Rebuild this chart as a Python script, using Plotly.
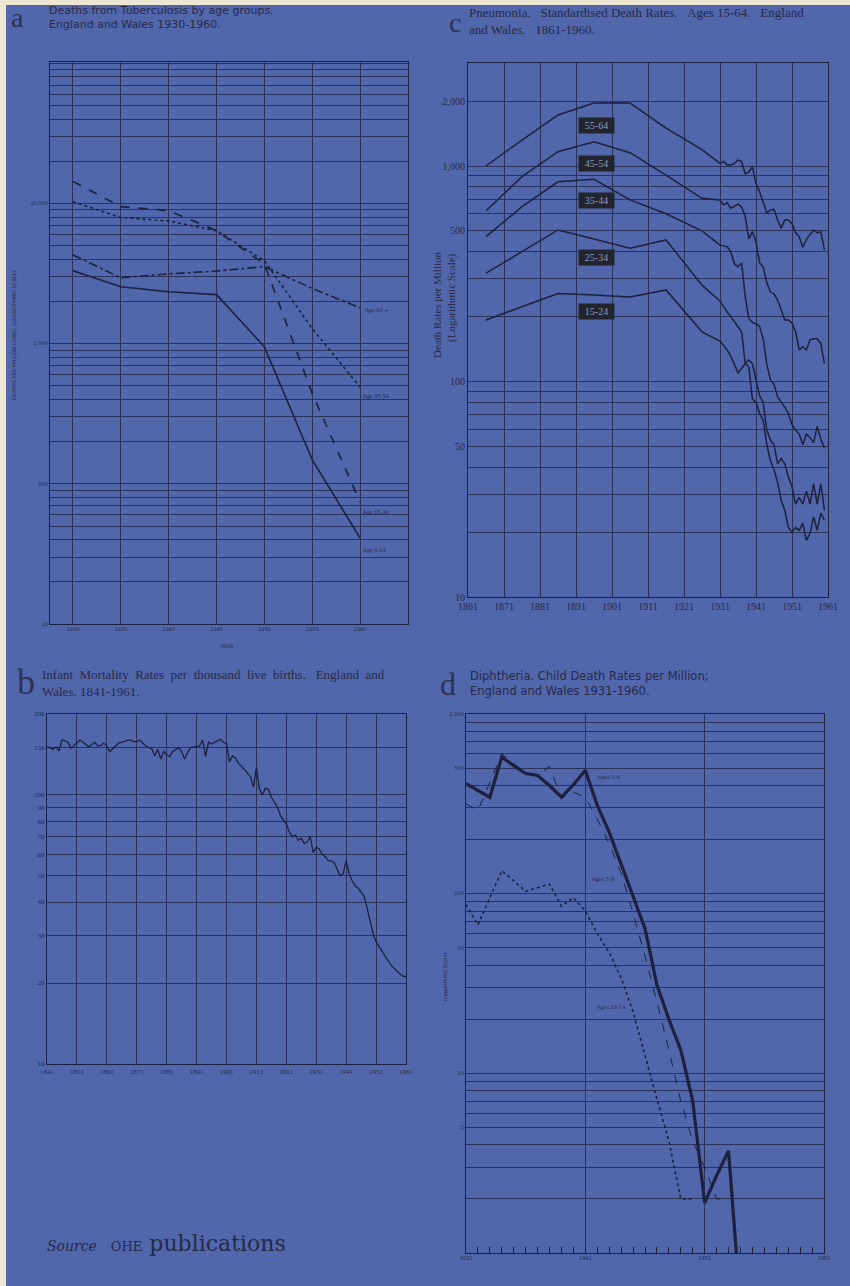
import plotly.graph_objects as go

W, H = 850, 1286

# ---------------- a : tuberculosis deaths by age group ----------------
tb_years = [1930, 1935, 1940, 1945, 1950, 1955, 1960]
tb_age_60_plus = [4300, 2950, 3150, 3300, 3550, 2480, 1800]
tb_age_35_59 = [10300, 7950, 7500, 6400, 3900, 1280, 490]
tb_age_15_34 = [14400, 9500, 8900, 6400, 3700, 440, 74]
tb_age_0_14 = [3320, 2550, 2350, 2240, 950, 148, 41]

# ---------------- b : infant mortality per 1,000 live births ----------------
infant_years = list(range(1841, 1962))
infant_rate = [
    151, 150, 148, 151, 146, 160, 159, 157, 149, 153,
    156, 160, 157, 154, 151, 154, 157, 152, 153, 156,
    152, 145, 149, 153, 156, 157, 159, 160, 160, 158,
    158, 160, 156, 152, 150, 149, 140, 148, 136, 145,
    141, 139, 145, 148, 150, 145, 136, 144, 150, 151,
    151, 152, 160, 139, 157, 155, 157, 160, 161, 157,
    155, 133, 140, 137, 131, 128, 124, 120, 117, 107,
    127, 105, 100, 106, 105, 98, 94, 90, 84, 81,
    78, 73, 70, 71, 68, 69, 66, 67, 70, 61,
    64, 63, 60, 59, 57, 57, 56, 53, 50, 51,
    57, 51, 48, 46, 45, 43.5, 42, 38, 34, 30.5,
    28.5, 27.3, 26.1, 25, 24.2, 23.3, 22.7, 22.2, 21.6, 21.2, 21.1,
]

# ---------------- c : pneumonia standardised death rates ----------------
pneu_years = [1866, 1876, 1886, 1896, 1906, 1916, 1926] + list(range(1931, 1961))
pneu_55_64 = [1000, 1320, 1725, 1960, 1960, 1500, 1190,
              1029, 1050, 1010, 1010, 1029, 1066, 1050, 920, 940, 990,
              830, 760, 670, 605, 625, 630, 562, 515, 562, 562,
              540, 490, 470, 420, 457, 480, 505, 490, 495, 408]
pneu_45_54 = [620, 892, 1165, 1297, 1153, 908, 708,
              696, 660, 675, 637, 650, 665, 645, 585, 460, 495,
              445, 355, 341, 287, 260, 255, 239, 215, 193, 193,
              187, 170, 140, 145, 140, 156, 158, 158, 150, 121]
pneu_35_44 = [470, 648, 845, 868, 696, 600, 500,
              430, 426, 422, 400, 352, 341, 355, 248, 196, 188,
              185, 180, 158, 120, 102, 97, 85, 80, 76, 71,
              63, 59.5, 57, 51, 57, 55, 52, 62, 54, 49]
pneu_25_34 = [318, 399, 505, 458, 415, 454, 280,
              236, 222, 210, 200, 190, 180, 170, 121, 126, 121,
              100, 86, 80, 59.5, 53.5, 51, 41.5, 44, 41.5, 36,
              32.5, 27, 29, 27, 31, 27, 33.5, 27, 33.5, 25.3]
pneu_15_24 = [193, 222, 256, 252, 247, 266, 170,
              154, 147, 140, 131, 119, 110, 115, 121, 117, 83,
              80, 71, 66, 51, 43, 39, 34, 28, 25.3, 21,
              20, 21, 20.4, 22, 18.3, 19.7, 23.5, 20.4, 24.5, 22.7]
pneu_groups = ["55-64", "45-54", "35-44", "25-34", "15-24"]
pneu_series = [pneu_55_64, pneu_45_54, pneu_35_44, pneu_25_34, pneu_15_24]

# ---------------- d : diphtheria child death rates per million ----------------
diph_years_1_4 = list(range(1931, 1955))
diph_ages_1_4 = [409, 375, 344, 577, 515, 466, 455, 400, 344, 404, 486, 310,
                 220, 146, 97, 64, 31, 20, 13.5, 7, 1.9, 2.7, 3.7, 0]
diph_years_5_9 = list(range(1931, 1954))
diph_ages_5_9 = [316, 290, 417, 600, 530, 470, 455, 510, 340, 367, 344, 260,
                 190, 130, 78, 45, 25, 13.5, 7, 4.2, 3, 2, 2]
diph_years_10_14 = list(range(1931, 1951))
diph_ages_10_14 = [87, 67, 95, 134, 118, 103, 108, 113, 85, 95, 80, 60,
                   47, 34, 22, 12.5, 7.2, 4.2, 2, 2]
# a year with no deaths cannot sit on a log scale: draw it below the axis floor
ZERO_FLOOR = 0.5

# ---------------- styling ----------------
BLUE = "#5266ab"
CREAM = "#ece6d3"
INK = "#1c2140"
GRID = "#28325a"
TEXT = "#252a47"
SERIF = "Liberation Serif"
SANS = "DejaVu Sans"
SP = "&nbsp;"


def px(x, y):
    return x / W, 1 - y / H


def xdom(x0, x1):
    return [x0 / W, x1 / W]


def ydom(top, bottom):
    return [1 - bottom / H, 1 - top / H]


def log_grid(decades, extra_top=None):
    vals = [m * 10 ** k for k in decades for m in range(1, 10)]
    if extra_top:
        vals.append(extra_top)
    return vals


def labels(vals, shown):
    return [shown.get(v, "") for v in vals]


fig = go.Figure()

# panel a
for name, vals, dash in [("Age 60 +", tb_age_60_plus, "dashdot"),
                         ("Age 35-59", tb_age_35_59, "dot"),
                         ("Age 15-34", tb_age_15_34, "dash"),
                         ("Age 0-14", tb_age_0_14, "solid")]:
    fig.add_trace(go.Scatter(x=tb_years, y=vals, mode="lines", name=name,
                             line=dict(color=INK, width=1.6, dash=dash),
                             xaxis="x", yaxis="y"))

# panel b
fig.add_trace(go.Scatter(x=infant_years, y=infant_rate, mode="lines",
                         line=dict(color=INK, width=1.3), xaxis="x2", yaxis="y2"))

# panel c
for name, vals in zip(pneu_groups, pneu_series):
    fig.add_trace(go.Scatter(x=pneu_years, y=vals, mode="lines", name=name,
                             line=dict(color=INK, width=1.5), xaxis="x3", yaxis="y3"))

# panel d
fig.add_trace(go.Scatter(x=diph_years_10_14, y=diph_ages_10_14, mode="lines",
                         line=dict(color=INK, width=1.6, dash="dot"),
                         xaxis="x4", yaxis="y4"))
fig.add_trace(go.Scatter(x=diph_years_5_9, y=diph_ages_5_9, mode="lines",
                         line=dict(color=INK, width=1.0, dash="dash"),
                         xaxis="x4", yaxis="y4"))
fig.add_trace(go.Scatter(x=diph_years_1_4,
                         y=[v if v > 0 else ZERO_FLOOR for v in diph_ages_1_4],
                         mode="lines", line=dict(color=INK, width=3.2),
                         xaxis="x4", yaxis="y4"))

frame = dict(showline=True, mirror=True, linecolor=INK, linewidth=1.2,
             showgrid=True, gridcolor=GRID, gridwidth=1, zeroline=False,
             ticks="", tickmode="array")

# axes for a
a_x = [1930, 1935, 1940, 1945, 1950, 1955, 1960]
a_y = log_grid(range(1, 5), 100000)
a_y_text = labels(a_y, {10: "10", 100: "100", 1000: "1,000", 10000: "10,000"})
# axes for b
b_x = list(range(1841, 1962, 10))
b_y = [10, 20, 30, 40, 50, 60, 70, 80, 90, 100, 150, 200]
# axes for c
c_x = list(range(1861, 1962, 10))
c_y = list(range(10, 101, 10)) + list(range(200, 1001, 100)) + [2000]
c_y_text = labels(c_y, {10: "10", 50: "50", 100: "100", 500: "500",
                        1000: "1,000", 2000: "2,000"})
# axes for d
d_x = [1931, 1941, 1951, 1961]
d_y = log_grid(range(0, 3), 1000)
d_y_text = labels(d_y, {5: "5", 10: "10", 50: "50", 100: "100", 500: "500", 1000: "1,000"})

tiny = dict(family=SANS, size=5, color=TEXT)
small_serif = dict(family=SERIF, size=7, color=TEXT)
mid_serif = dict(family=SERIF, size=10, color=TEXT)

fig.update_layout(
    width=W, height=H, margin=dict(l=0, r=0, t=0, b=0, autoexpand=False),
    paper_bgcolor=BLUE, plot_bgcolor=BLUE, showlegend=False,
    xaxis=dict(frame, domain=xdom(50, 408), anchor="y", range=[1927.6, 1965],
               tickvals=a_x, ticktext=[str(v) for v in a_x], tickfont=tiny),
    yaxis=dict(frame, domain=ydom(62, 624), anchor="x", type="log", range=[1, 5.01],
               tickvals=a_y, ticktext=a_y_text, tickfont=tiny),
    xaxis2=dict(frame, domain=xdom(47, 406), anchor="y2", range=[1841, 1961],
                tickvals=b_x, ticktext=[str(v) for v in b_x], tickfont=small_serif),
    yaxis2=dict(frame, domain=ydom(714, 1064), anchor="x2", type="log",
                range=[1, 2.30103], tickvals=b_y, ticktext=[str(v) for v in b_y],
                tickfont=small_serif),
    xaxis3=dict(frame, domain=xdom(468, 828), anchor="y3", range=[1861, 1961],
                tickvals=c_x, ticktext=[str(v) for v in c_x], tickfont=mid_serif),
    yaxis3=dict(frame, domain=ydom(63, 597), anchor="x3", type="log", range=[1, 3.478],
                tickvals=c_y, ticktext=c_y_text, tickfont=mid_serif),
    xaxis4=dict(frame, domain=xdom(466, 824), anchor="y4", range=[1931, 1961],
                tickvals=d_x, ticktext=[str(v) for v in d_x], tickfont=tiny,
                ticks="inside", ticklen=6, tickcolor=INK,
                minor=dict(tickmode="array", tickvals=list(range(1932, 1961)),
                           ticks="inside", ticklen=6, tickcolor=INK, showgrid=False)),
    yaxis4=dict(frame, domain=ydom(714, 1253), anchor="x4", type="log", range=[0, 3],
                tickvals=d_y, ticktext=d_y_text, tickfont=tiny),
)

ann = []


def note(x, y, text, font, xanchor="left", yanchor="middle", angle=0, **kw):
    xp, yp = px(x, y)
    ann.append(dict(x=xp, y=yp, xref="paper", yref="paper", text=text, showarrow=False,
                    font=font, xanchor=xanchor, yanchor=yanchor, textangle=angle, **kw))


letter = lambda s: dict(family=SERIF, size=s, color="#2c3254")

# panel a headings
note(17, 18, "a", letter(28), xanchor="center")
note(47, 18, "Deaths from Tuberculosis by age groups.<br>England and Wales 1930-1960.",
     dict(family=SANS, size=11, color=TEXT), align="left")
note(14, 335, "DEATHS PER MILLION LIVING (LOGARITHMIC SCALE)", tiny, xanchor="center", angle=-90)
note(227, 646, "YEAR", tiny, xanchor="center")
note(363, 310, "Age 60 +", tiny)
note(361, 396, "Age 35-59", tiny)
note(361, 512, "Age 15-34", tiny)
note(361, 551, "Age 0-14", tiny)

# panel c headings
note(455, 23, "c", letter(28), xanchor="center")
note(467, 21,
     "Pneumonia." + SP * 3 + "Standardised Death Rates." + SP * 3 + "Ages 15-64." + SP * 3
     + "England<br>and Wales." + SP * 3 + "1861-1960.",
     dict(family=SERIF, size=13, color=TEXT), align="left")
note(437, 305, "Death Rates per Million", dict(family=SERIF, size=11, color=TEXT),
     xanchor="center", angle=-90)
note(451, 298, "(Logarithmic Scale)", dict(family=SERIF, size=11, color=TEXT),
     xanchor="center", angle=-90)
for name, ypos in zip(pneu_groups, [125, 164, 200, 257, 311]):
    note(596, ypos, name, dict(family=SERIF, size=10, color="#8e9ac8"), xanchor="center",
         bgcolor="#23252e", width=33, height=13, borderpad=1)

# panel b headings
note(26, 682, "b", letter(36), xanchor="center")
note(40, 683,
     "Infant" + SP * 2 + "Mortality" + SP * 2 + "Rates" + SP * 2 + "per" + SP * 2 + "thousand"
     + SP * 2 + "live" + SP * 2 + "births." + SP * 3 + "England" + SP * 2 + "and<br>Wales. 1841-1961.",
     dict(family=SERIF, size=13, color=TEXT), align="left")

# panel d headings
note(448, 684, "d", letter(32), xanchor="center")
note(468, 683, "Diphtheria. Child Death Rates per Million;<br>England and Wales 1931-1960.",
     dict(family=SANS, size=11.5, color=TEXT), align="left")
note(445, 977, "(Logarithmic Scale)", tiny, xanchor="center", angle=-90)
note(596, 777, "Ages 1-4", tiny)
note(590, 879, "Ages 5-9", tiny)
note(595, 1007, "Ages 10-14", tiny)

# source line
note(45, 1243,
     "<i><span style='font-size:14px'>Source</span></i>" + SP * 2
     + "<span style='font-size:13px'>OHE</span> publications",
     dict(family="DejaVu Serif", size=22, color="#252a47"))

fig.update_layout(annotations=ann)

# cream paper edge along the top and left
fig.update_layout(shapes=[
    dict(type="rect", xref="paper", yref="paper", x0=0, x1=6 / W, y0=0, y1=1,
         fillcolor=CREAM, line=dict(width=0), layer="above"),
    dict(type="rect", xref="paper", yref="paper", x0=0, x1=1, y0=1 - 5 / H, y1=1,
         fillcolor=CREAM, line=dict(width=0), layer="above"),
])

fig.write_html("out.html")
